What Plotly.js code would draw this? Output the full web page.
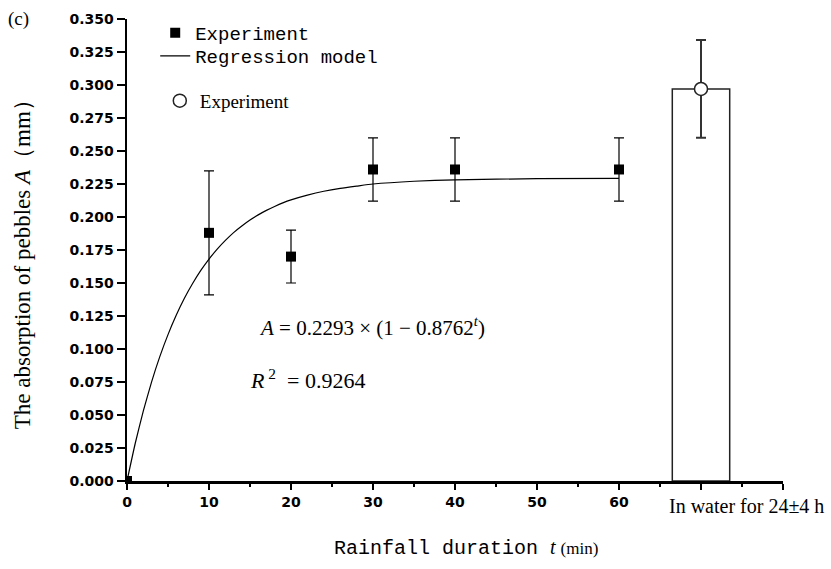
<!DOCTYPE html>
<html>
<head>
<meta charset="utf-8">
<script src="https://cdn.plot.ly/plotly-3.0.1.min.js"></script>
<style>html,body{margin:0;padding:0;background:#fff;}#chart{width:831px;height:569px;}</style>
</head>
<body>
<div id="chart"></div>
<script>
// Experimental points (rainfall)
const expT = [0, 10, 20, 30, 40, 60];
const expA = [0, 0.188, 0.170, 0.236, 0.236, 0.236];
const expErr = [0, 0.047, 0.020, 0.024, 0.024, 0.024];

// Regression model curve
const curveT = [0, 1, 2, 3, 4, 5, 6, 7, 8, 9, 10, 11, 12, 13, 14, 15, 16, 17, 18, 19, 20, 22, 24, 26, 28, 30, 35, 40, 50, 60];
const curveA = [0, 0.0284, 0.0533, 0.0751, 0.0942, 0.1109, 0.1255, 0.1384, 0.1496, 0.1595, 0.1681, 0.1757, 0.1823, 0.1882, 0.1932, 0.1977, 0.2016, 0.2050, 0.2080, 0.2107, 0.2130, 0.2166, 0.2195, 0.2217, 0.2234, 0.2250, 0.2271, 0.2282, 0.2290, 0.2292];

// Immersion in water (24±4 h)
const waterX = [70];
const waterA = [0.297];
const waterErr = [0.037];
const waterBarWidth = [7];

// Axis ticks
const xTickVals = [0, 10, 20, 30, 40, 50, 60, 70, 80];
const xTickText = ['0', '10', '20', '30', '40', '50', '60', '', ''];
const waterLabel = 'In water for 24±4 h';

const serif = 'Liberation Serif, Times New Roman, serif';
const mono = 'Liberation Mono, DejaVu Sans Mono, monospace';

const traces = [
  {
    type: 'bar', x: waterX, y: waterA, width: waterBarWidth,
    marker: {color: '#ffffff', line: {color: '#222', width: 1.5}},
    showlegend: false, hoverinfo: 'skip'
  },
  {
    type: 'scatter', mode: 'markers', name: 'Experiment',
    x: expT, y: expA,
    error_y: {type: 'data', array: expErr, visible: true, color: '#000', thickness: 1.2, width: 5},
    marker: {symbol: 'square', size: 10, color: '#000'},
    cliponaxis: true, legend: 'legend'
  },
  {
    type: 'scatter', mode: 'lines', name: 'Regression model',
    x: curveT, y: curveA,
    line: {color: '#000', width: 1.2, shape: 'spline', smoothing: 0.5},
    legend: 'legend3'
  },
  {
    type: 'scatter', mode: 'markers', name: 'Experiment',
    x: waterX, y: waterA,
    error_y: {type: 'data', array: waterErr, visible: true, color: '#333', thickness: 2, width: 5},
    marker: {symbol: 'circle', size: 13, color: '#fff', line: {color: '#222', width: 1.5}},
    legend: 'legend2'
  }
];

const layout = {
  width: 831, height: 569,
  margin: {l: 127, r: 48, t: 19, b: 88},
  paper_bgcolor: '#fff', plot_bgcolor: '#fff',
  showlegend: true,
  xaxis: {
    range: [0, 80], showgrid: false, zeroline: false,
    showline: true, linecolor: '#000', linewidth: 3,
    tickmode: 'array', tickvals: xTickVals, ticktext: xTickText,
    ticks: 'outside', ticklen: 6, tickwidth: 2, tickcolor: '#000',
    minor: {dtick: 5, ticks: 'outside', ticklen: 3, tickwidth: 1.5, tickcolor: '#000'},
    tickfont: {family: 'DejaVu Sans', size: 14, color: '#000', weight: 'bold'}
  },
  yaxis: {
    range: [0, 0.35], showgrid: false, zeroline: false,
    showline: true, linecolor: '#000', linewidth: 2.5,
    dtick: 0.025, tick0: 0, tickformat: '.3f',
    ticks: 'outside', ticklen: 8, tickwidth: 2, tickcolor: '#000',
    tickfont: {family: 'DejaVu Sans', size: 14, color: '#000', weight: 'bold'}
  },
  legend: {
    x: 0.043, xanchor: 'left', y: 1.0108, yanchor: 'top',
    bgcolor: 'rgba(0,0,0,0)', borderwidth: 0,
    font: {family: mono, size: 19, color: '#000'}
  },
  legend3: {
    x: 0.043, xanchor: 'left', y: 0.961, yanchor: 'top',
    bgcolor: 'rgba(0,0,0,0)', borderwidth: 0,
    font: {family: mono, size: 19, color: '#000'}
  },
  legend2: {
    x: 0.05, xanchor: 'left', y: 0.864, yanchor: 'top',
    bgcolor: 'rgba(0,0,0,0)', borderwidth: 0,
    font: {family: serif, size: 19, color: '#000'}
  },
  annotations: [
    {xref: 'paper', yref: 'paper', x: -0.165, y: 1.0, xanchor: 'center', yanchor: 'middle',
     text: '(c)', showarrow: false, font: {family: serif, size: 19, color: '#000'}},
    {xref: 'paper', yref: 'paper', x: -0.16, y: 0.48, xanchor: 'center', yanchor: 'middle',
     textangle: -90, text: 'The absorption of pebbles <i>A</i>（mm）', showarrow: false,
     font: {family: serif, size: 23, color: '#000'}},
    {xref: 'paper', yref: 'paper', x: 0.3125, y: -0.145, xanchor: 'left', yanchor: 'middle',
     text: '<span style="font-family:Liberation Mono">Rainfall duration </span><i>t</i> <span style="font-size:17px">(min)</span>',
     showarrow: false, font: {family: serif, size: 20, color: '#000'}},
    {xref: 'x', yref: 'y', x: 75.5, y: 0, yshift: -12, xanchor: 'center', yanchor: 'top',
     text: waterLabel, showarrow: false, font: {family: serif, size: 20, color: '#000'}},
    {xref: 'x', yref: 'y', x: 15.85, y: 0.117, xanchor: 'left', yanchor: 'middle',
     text: '<i>A</i> = 0.2293 × (1 − 0.8762<sup><i>t</i></sup>)', showarrow: false,
     font: {family: serif, size: 21, color: '#000'}},
    {xref: 'x', yref: 'y', x: 14.76, y: 0.0775, xanchor: 'left', yanchor: 'middle',
     text: '<i>R</i><sup> 2</sup>  = 0.9264', showarrow: false,
     font: {family: serif, size: 22, color: '#000'}}
  ]
};

Plotly.newPlot('chart', traces, layout, {displayModeBar: false, staticPlot: true});
</script>
</body>
</html>
